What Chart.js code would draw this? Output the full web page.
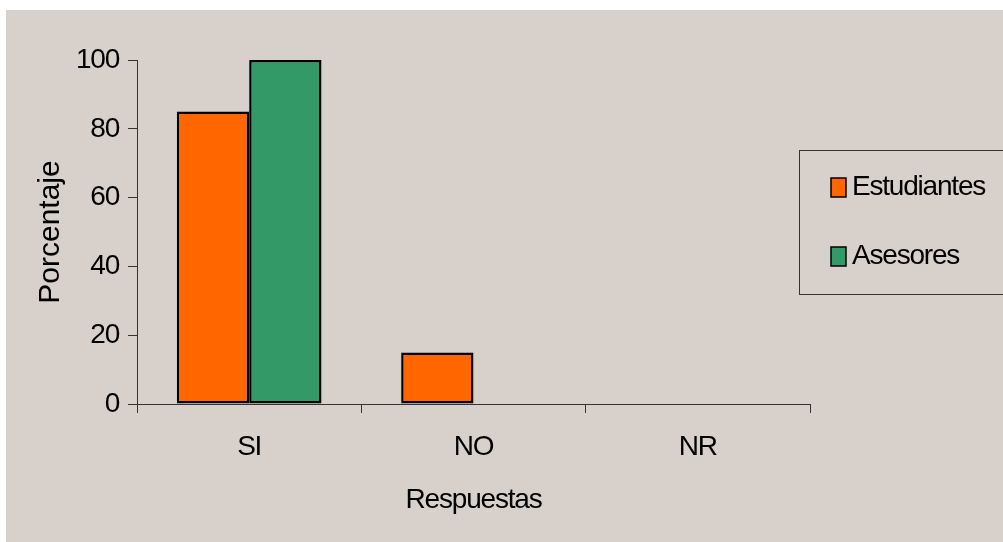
<!DOCTYPE html>
<html>
<head>
<meta charset="utf-8">
<script src="https://cdn.jsdelivr.net/npm/chart.js@4.4.0/dist/chart.umd.min.js"></script>
<style>
  html, body { margin: 0; padding: 0; background: #ffffff; }
  #wrap { width: 1003px; height: 542px; }
</style>
</head>
<body>
<div id="wrap"><canvas id="c" width="1003" height="542"></canvas></div>
<script>
const categories = ['SI', 'NO', 'NR'];
const estudiantes = [85, 15, 0];
const asesores = [100, 0, 0];
const seriesNames = ['Estudiantes', 'Asesores'];
const yTicks = [0, 20, 40, 60, 80, 100];
const xTitle = 'Respuestas';
const yTitle = 'Porcentaje';

const BG = '#d8d0ca';
const AXIS = '#333333';
const FONT = "'Liberation Sans', Arial, sans-serif";
const LS = '-1.2px';

const bgPlugin = {
  id: 'bg',
  beforeLayout(chart) { chart.ctx.letterSpacing = LS; },
  beforeDraw(chart) {
    const ctx = chart.ctx;
    ctx.save();
    ctx.fillStyle = '#ffffff';
    ctx.fillRect(0, 0, chart.width, chart.height);
    ctx.fillStyle = BG;
    ctx.fillRect(6, 10, chart.width - 6, chart.height - 10);
    ctx.restore();
    ctx.letterSpacing = LS;
    const s = chart.scales.y;
    if (s && !s._wrappedTitle) {
      const orig = s.drawTitle;
      s.drawTitle = function () {
        const prev = this.ctx.letterSpacing;
        this.ctx.letterSpacing = '0px';
        orig.call(this);
        this.ctx.letterSpacing = prev;
      };
      s._wrappedTitle = true;
    }
  }
};

const legendPlugin = {
  id: 'boxLegend',
  afterDraw(chart) {
    const ctx = chart.ctx;
    ctx.save();
    ctx.letterSpacing = LS;
    ctx.strokeStyle = AXIS;
    ctx.lineWidth = 1;
    ctx.strokeRect(799.5, 150.5, 220, 144);
    const rows = [187, 256];
    chart.data.datasets.forEach((ds, i) => {
      const cy = rows[i];
      ctx.fillStyle = ds.backgroundColor;
      ctx.fillRect(831, cy - 9, 15, 19);
      ctx.strokeStyle = '#000';
      ctx.lineWidth = 1.5;
      ctx.strokeRect(831, cy - 9, 15, 19);
      ctx.fillStyle = '#000';
      ctx.font = '28px ' + FONT;
      ctx.textBaseline = 'middle';
      ctx.textAlign = 'left';
      ctx.fillText(ds.label, 852, cy);
    });
    ctx.restore();
  }
};

new Chart(document.getElementById('c'), {
  type: 'bar',
  data: {
    labels: categories,
    datasets: [
      { label: seriesNames[0], data: estudiantes, backgroundColor: '#ff6600', borderColor: '#000', borderWidth: 2.5, borderSkipped: false },
      { label: seriesNames[1], data: asesores, backgroundColor: '#339966', borderColor: '#000', borderWidth: 2.5, borderSkipped: false }
    ]
  },
  options: {
    responsive: false,
    animation: false,
    events: [],
    layout: { padding: { left: 0, top: 60, right: 193, bottom: 0 } },
    datasets: { bar: { categoryPercentage: 0.645, barPercentage: 1.0 } },
    plugins: { legend: { display: false }, tooltip: { enabled: false } },
    scales: {
      x: {
        type: 'category',
        offset: true,
        grid: { offset: true, drawOnChartArea: false, drawTicks: true, tickLength: 9, color: AXIS, tickColor: AXIS },
        border: { display: true, color: AXIS, width: 1 },
        ticks: { color: '#000', padding: 17, font: { family: FONT, size: 28 } },
        title: { display: true, text: xTitle, color: '#000', font: { family: FONT, size: 28 }, padding: { top: 0, bottom: 25 } },
        afterFit(scale) { scale.height = 138; }
      },
      y: {
        min: 0, max: 100,
        afterBuildTicks(scale) { scale.ticks = yTicks.map(v => ({ value: v })); },
        grid: { drawOnChartArea: false, drawTicks: true, tickLength: 9, color: AXIS, tickColor: AXIS },
        border: { display: true, color: AXIS, width: 1 },
        ticks: { color: '#000', padding: 9, font: { family: FONT, size: 28 } },
        title: { display: true, text: yTitle, color: '#000', font: { family: FONT, size: 30 }, padding: { top: 33, bottom: 0 } },
        afterFit(scale) { scale.width = 137; }
      }
    }
  },
  plugins: [bgPlugin, legendPlugin]
});
</script>
</body>
</html>
